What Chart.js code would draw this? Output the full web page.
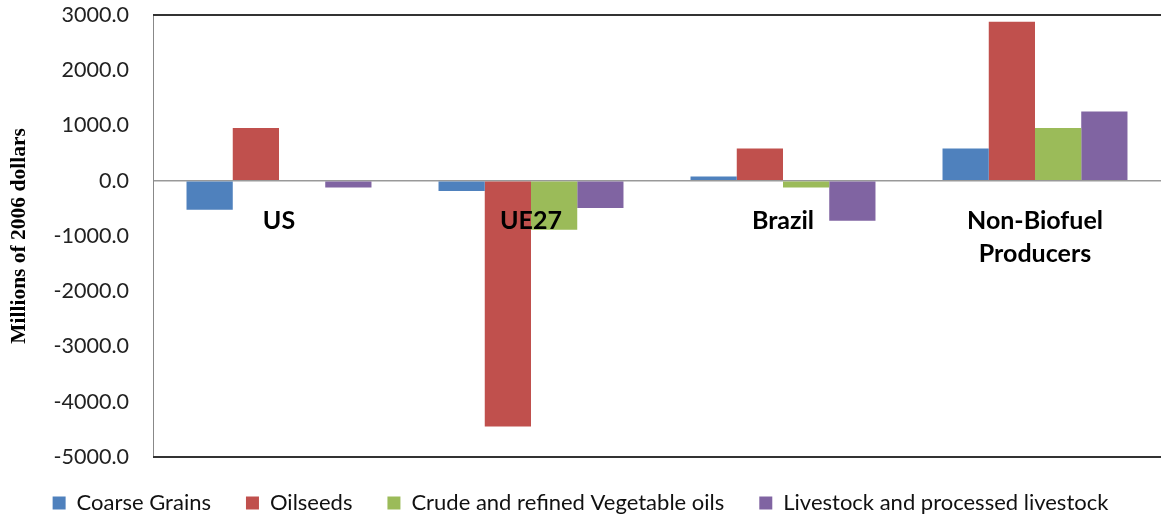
<!DOCTYPE html>
<html>
<head>
<meta charset="utf-8">
<script src="https://cdn.jsdelivr.net/npm/chart.js@4.4.1/dist/chart.umd.min.js"></script>
<style>
html,body{margin:0;padding:0;background:#fff;}
#wrap{width:1161px;height:516px;position:relative;}
</style>
</head>
<body>
<div id="wrap"><canvas id="c" width="1161" height="516"></canvas></div>
<script>
const categories = [["US"], ["UE27"], ["Brazil"], ["Non-Biofuel", "Producers"]];
const seriesNames = ["Coarse Grains", "Oilseeds", "Crude and refined Vegetable oils", "Livestock and processed livestock"];
const coarseGrains = [-525, -187, 78, 585];
const oilseeds = [954, -4447, 585, 2878];
const vegOils = [0, -887, -120, 954];
const livestock = [-120, -495, -724, 1254];
const colors = ["#4F81BD", "#C0504D", "#9BBB59", "#8064A2"];
const yTitle = "Millions of 2006 dollars";

const catLabelPlugin = {
  id: 'catLabels',
  afterDatasetsDraw(chart) {
    const ctx = chart.ctx, xs = chart.scales.x, ys = chart.scales.y;
    const y0 = ys.getPixelForValue(0);
    ctx.save();
    ctx.font = "bold 25px Lato";
    ctx.fillStyle = "#000";
    ctx.textAlign = "center";
    ctx.textBaseline = "middle";
    categories.forEach((lines, i) => {
      const x = xs.getPixelForValue(i);
      lines.forEach((t, j) => ctx.fillText(t, x, y0 + 40 + j * 33));
    });
    ctx.restore();
  }
};
const framePlugin = {
  id: 'frame',
  afterInit(chart) {
    const lg = chart.legend;
    if (lg) {
      const f = lg.fit;
      lg.fit = function () { f.call(this); this.height = 59; };
    }
  },
  afterDraw(chart) {
    const ctx = chart.ctx, a = chart.chartArea;
    ctx.save();
    ctx.strokeStyle = "#333";
    ctx.lineWidth = 2;
    ctx.beginPath();
    ctx.moveTo(a.left, a.top); ctx.lineTo(a.right, a.top);
    ctx.moveTo(a.left, a.bottom); ctx.lineTo(a.right, a.bottom);
    ctx.stroke();
    ctx.restore();
  }
};

const dataArrays = [coarseGrains, oilseeds, vegOils, livestock];
new Chart(document.getElementById('c'), {
  type: 'bar',
  data: {
    labels: categories.map(c => c.join(' ')),
    datasets: seriesNames.map((n, i) => ({
      label: n, data: dataArrays[i], backgroundColor: colors[i],
      borderWidth: 0, categoryPercentage: 0.734, barPercentage: 1.0
    }))
  },
  options: {
    responsive: false, animation: false, devicePixelRatio: 1,
    layout: { padding: { top: 15, right: 0, bottom: 0, left: 0 } },
    plugins: {
      tooltip: { enabled: false },
      legend: {
        position: 'bottom',
        labels: {
          font: { family: 'Lato', size: 22 }, color: '#111',
          boxWidth: 13, boxHeight: 13, padding: 35, useBorderRadius: false
        }
      }
    },
    scales: {
      x: { display: false },
      y: {
        min: -5000, max: 3000,
        afterFit(s) { s.width = 153; s.paddingTop = 0; s.paddingBottom = 0; },
        ticks: {
          stepSize: 1000, padding: 24, color: '#222',
          font: { family: 'Lato', size: 21.5 },
          callback: v => Number(v).toFixed(1)
        },
        grid: {
          drawTicks: false,
          color: c => c.tick && c.tick.value === 0 ? '#999' : 'rgba(0,0,0,0)',
          lineWidth: 1.5
        },
        border: { display: true, color: '#888', width: 1 },
        title: {
          display: true, text: yTitle, color: '#000',
          font: { family: 'Liberation Serif', size: 21.5, weight: 'bold' },
          padding: { top: 7, bottom: 0 }
        }
      }
    }
  },
  plugins: [catLabelPlugin, framePlugin]
});
</script>
</body>
</html>
